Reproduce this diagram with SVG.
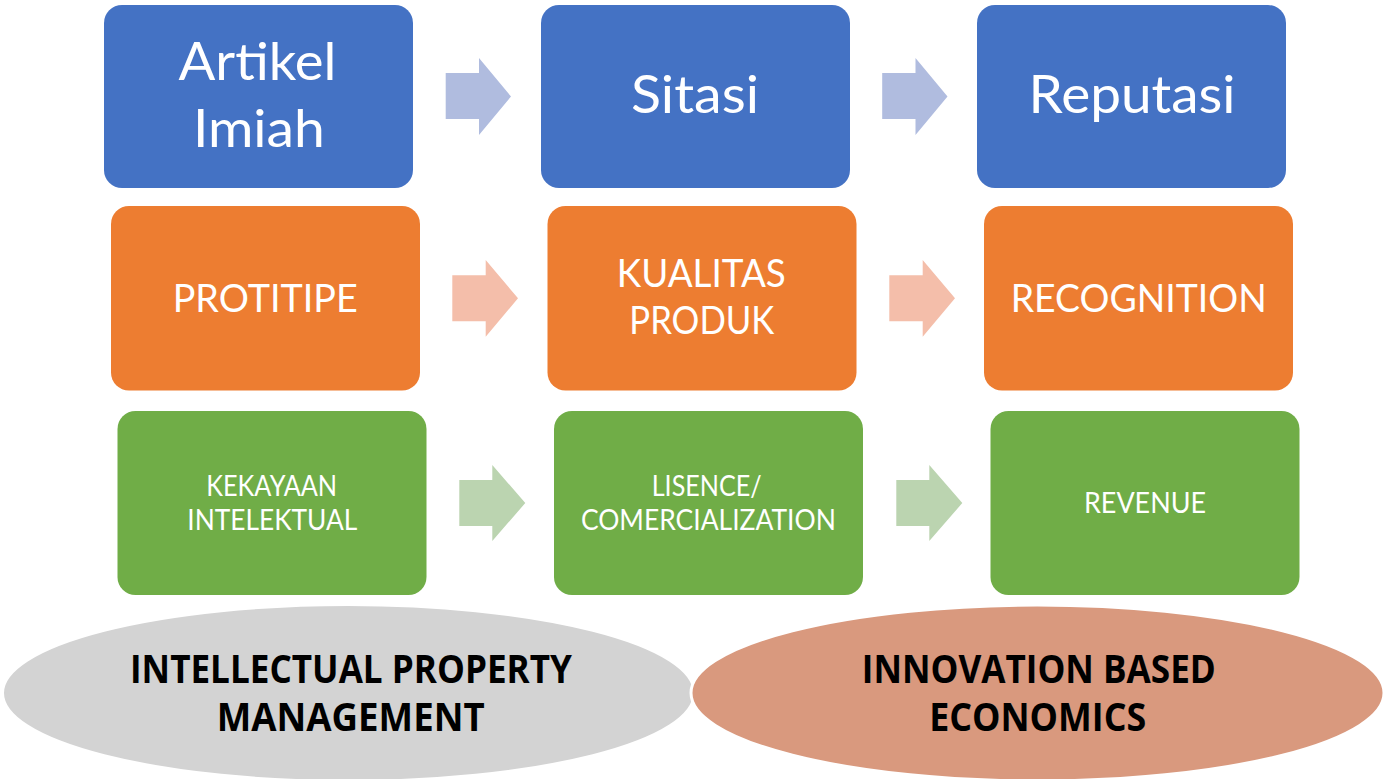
<svg xmlns="http://www.w3.org/2000/svg" width="1383" height="779" viewBox="0 0 1383 779">
<style>
.blue{fill:#4472C4}
.orange{fill:#ED7D31}
.green{fill:#70AD47}
.ab{fill:#B0BCDF}
.ao{fill:#F4BEAA}
.ag{fill:#BBD4B0}
.t{font-family:Lato,"Open Sans","Liberation Sans",sans-serif;fill:#FFFFFF;text-anchor:middle}
.t1{font-size:52px}
.t2{font-size:38.5px}
.t3{font-size:28.5px}
.e{font-family:"Open Sans",Lato,"Liberation Sans",sans-serif;font-weight:bold;font-size:38.5px;fill:#000000;text-anchor:middle}
</style>
<rect width="1383" height="779" fill="#FFFFFF"/>
<g id="connectors">
<polygon class="ab" points="445.7,73 479,73 479,58 511,96.5 479,135 479,119 445.7,119"/>
<polygon class="ab" points="882.2,73 915.5,73 915.5,58 947.5,96.5 915.5,135 915.5,119 882.2,119"/>
<polygon class="ao" points="452.3,275.3 485.7,275.3 485.7,260 518,298.3 485.7,336.7 485.7,321.3 452.3,321.3"/>
<polygon class="ao" points="889.3,275.3 922.7,275.3 922.7,260 955,298.3 922.7,336.7 922.7,321.3 889.3,321.3"/>
<polygon class="ag" points="459.3,480 492.3,480 492.3,465 525.3,503 492.3,541 492.3,526 459.3,526"/>
<polygon class="ag" points="896.3,480 929.3,480 929.3,465 962.3,503 929.3,541 929.3,526 896.3,526"/>
</g>
<g id="artikel">
<rect class="blue" x="104" y="5" width="309" height="183" rx="18"/>
<text class="t t1" x="257.5" y="80" textLength="158" lengthAdjust="spacingAndGlyphs">Artikel</text>
<text class="t t1" x="258.9" y="147.3" textLength="132" lengthAdjust="spacingAndGlyphs">Imiah</text>
</g>
<g id="sitasi">
<rect class="blue" x="541" y="5" width="309" height="183" rx="18"/>
<text class="t t1" x="695" y="113.3" textLength="128" lengthAdjust="spacingAndGlyphs">Sitasi</text>
</g>
<g id="reputasi">
<rect class="blue" x="977" y="5" width="309" height="183" rx="18"/>
<text class="t t1" x="1132" y="113.3" textLength="207" lengthAdjust="spacingAndGlyphs">Reputasi</text>
</g>
<g id="protitipe">
<rect class="orange" x="111" y="206" width="309" height="184.5" rx="18"/>
<text class="t t2" x="265.2" y="311.7" textLength="185" lengthAdjust="spacingAndGlyphs">PROTITIPE</text>
</g>
<g id="kualitas">
<rect class="orange" x="547.5" y="206" width="309" height="184.5" rx="18"/>
<text class="t t2" x="701.3" y="287.3" textLength="169" lengthAdjust="spacingAndGlyphs">KUALITAS</text>
<text class="t t2" x="701.8" y="334" textLength="145" lengthAdjust="spacingAndGlyphs">PRODUK</text>
</g>
<g id="recognition">
<rect class="orange" x="984" y="206" width="309" height="184.5" rx="18"/>
<text class="t t2" x="1138.7" y="311.7" textLength="256" lengthAdjust="spacingAndGlyphs">RECOGNITION</text>
</g>
<g id="kekayaan">
<rect class="green" x="117.5" y="411" width="309" height="184" rx="18"/>
<text class="t t3" x="271.7" y="495.5" textLength="131" lengthAdjust="spacingAndGlyphs">KEKAYAAN</text>
<text class="t t3" x="272.3" y="530" textLength="170" lengthAdjust="spacingAndGlyphs">INTELEKTUAL</text>
</g>
<g id="lisence">
<rect class="green" x="554" y="411" width="309" height="184" rx="18"/>
<text class="t t3" x="706.7" y="496" textLength="110" lengthAdjust="spacingAndGlyphs">LISENCE/</text>
<text class="t t3" x="708.4" y="530" textLength="255" lengthAdjust="spacingAndGlyphs">COMERCIALIZATION</text>
</g>
<g id="revenue">
<rect class="green" x="990.5" y="411" width="309" height="184" rx="18"/>
<text class="t t3" x="1145" y="513" textLength="122" lengthAdjust="spacingAndGlyphs">REVENUE</text>
</g>
<g id="ipm">
<ellipse cx="348.5" cy="693" rx="345.5" ry="88" fill="#D3D3D3" stroke="#FFFFFF" stroke-width="2"/>
<text class="e" x="351" y="682.7" textLength="442" lengthAdjust="spacingAndGlyphs">INTELLECTUAL PROPERTY</text>
<text class="e" x="350.7" y="731" textLength="268" lengthAdjust="spacingAndGlyphs">MANAGEMENT</text>
</g>
<g id="ibe">
<ellipse cx="1037.5" cy="693" rx="346.5" ry="88" fill="#D9997E" stroke="#FFFFFF" stroke-width="3"/>
<text class="e" x="1038.8" y="682.7" textLength="354" lengthAdjust="spacingAndGlyphs">INNOVATION BASED</text>
<text class="e" x="1037.7" y="731" textLength="217" lengthAdjust="spacingAndGlyphs">ECONOMICS</text>
</g>
</svg>
